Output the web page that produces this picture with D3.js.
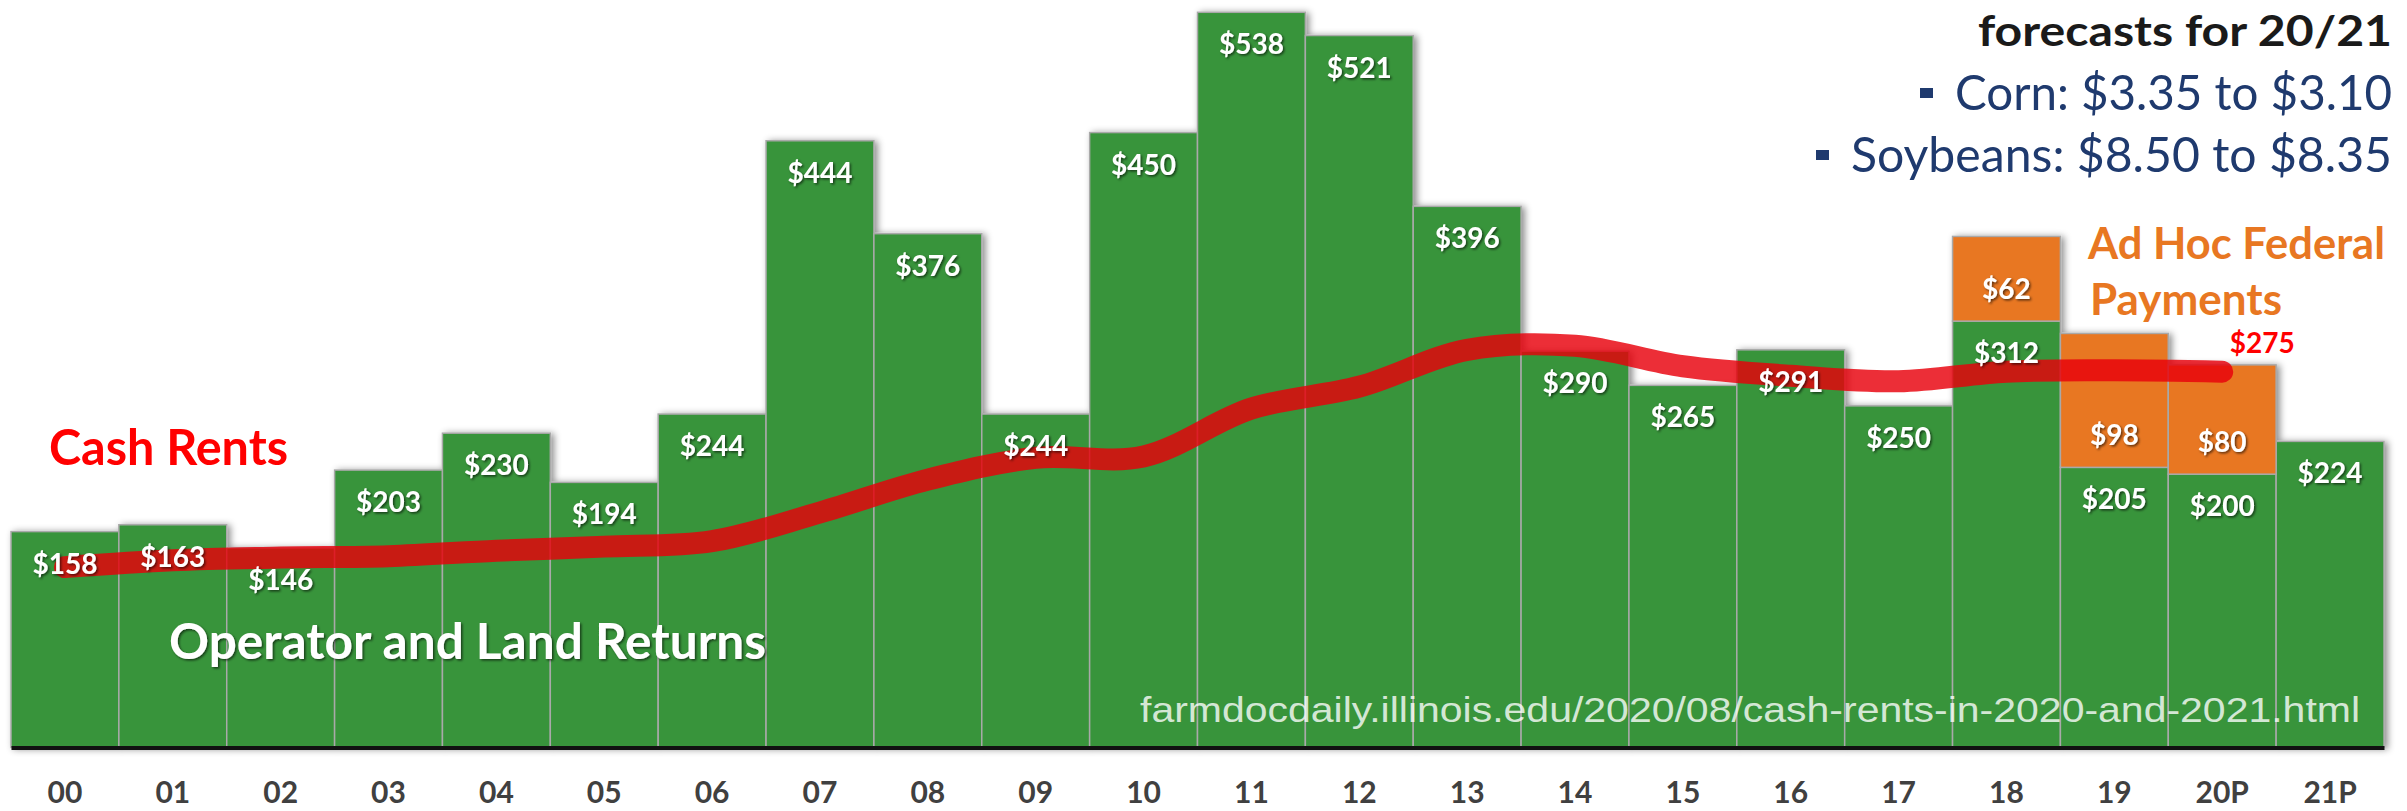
<!DOCTYPE html>
<html>
<head>
<meta charset="utf-8">
<script src="https://cdn.jsdelivr.net/npm/d3@7"></script>
<style>
  html, body { margin: 0; padding: 0; background: #ffffff; }
  svg { display: block; }
</style>
</head>
<body>
<div id="chart"></div>
<script>
// ---------------- data ----------------
const categories = ["00","01","02","03","04","05","06","07","08","09","10","11","12","13","14","15","16","17","18","19","20P","21P"];
const operatorReturns = [158,163,146,203,230,194,244,444,376,244,450,538,521,396,290,265,291,250,312,205,200,224];
const adHocPayments   = [0,0,0,0,0,0,0,0,0,0,0,0,0,0,0,0,0,0,62,98,80,0];
const cashRentYears   = ["00","01","02","03","04","05","06","07","08","09","10","11","12","13","14","15","16","17","18","19","20P"];
const cashRents       = [132,137,139,140,144,147,151,172,196,212,213,248,264,291,294,279,272,268,275,276,275];
const forecastTitle = "forecasts for 20/21";
const forecastLines = ["Corn: $3.35 to $3.10", "Soybeans: $8.50 to $8.35"];
const sourceText = "farmdocdaily.illinois.edu/2020/08/cash-rents-in-2020-and-2021.html";

// ---------------- setup ----------------
const W = 2407, H = 811;
const GREEN = "#37943a", ORANGE = "#e87722", RED = "#e8000b", NAVY = "#1f3a6e";
const FONT = "Lato, 'Open Sans', sans-serif";

const svg = d3.select("#chart").append("svg")
  .attr("width", W).attr("height", H)
  .style("background", "#fff");

const defs = svg.append("defs");
defs.append("filter").attr("id", "barShadow")
  .attr("x", "-2%").attr("y", "-5%").attr("width", "104%").attr("height", "110%")
  .append("feDropShadow")
  .attr("dx", 3).attr("dy", 1).attr("stdDeviation", 3.5)
  .attr("flood-color", "#000").attr("flood-opacity", 0.45);
defs.append("filter").attr("id", "txtShadow")
  .attr("x", "-10%").attr("y", "-20%").attr("width", "130%").attr("height", "150%")
  .append("feDropShadow")
  .attr("dx", 1.5).attr("dy", 1.5).attr("stdDeviation", 1.2)
  .attr("flood-color", "#000").attr("flood-opacity", 0.6);

const x = d3.scaleBand().domain(categories).range([11, 2384]).padding(0);
const y = d3.scaleLinear().domain([0, 547]).range([747.5, 0]);
const bw = x.bandwidth();
const cx = c => x(c) + bw / 2;

const data = categories.map((c, i) => ({ c, r: operatorReturns[i], a: adHocPayments[i] }));

// ---------------- bars ----------------
const bars = svg.append("g").attr("filter", "url(#barShadow)");
bars.selectAll("rect.ret").data(data).join("rect")
  .attr("class", "ret")
  .attr("x", d => x(d.c)).attr("width", bw)
  .attr("y", d => y(d.r)).attr("height", d => y(0) - y(d.r))
  .attr("fill", GREEN).attr("stroke", "#a9a9a9").attr("stroke-width", 1.5);
bars.selectAll("rect.adhoc").data(data.filter(d => d.a > 0)).join("rect")
  .attr("class", "adhoc")
  .attr("x", d => x(d.c)).attr("width", bw)
  .attr("y", d => y(d.r + d.a)).attr("height", d => y(d.r) - y(d.r + d.a))
  .attr("fill", ORANGE).attr("stroke", "#a9a9a9").attr("stroke-width", 1.5);

// ---------------- axis ----------------
const axis = svg.append("g").attr("transform", `translate(0,${y(0)})`)
  .call(d3.axisBottom(x).tickSize(0).tickSizeOuter(0));
axis.select(".domain").attr("stroke", "#111").attr("stroke-width", 4);
axis.selectAll(".tick text")
  .attr("y", 55.5).attr("dy", null)
  .attr("font-family", FONT).attr("font-weight", 700).attr("font-size", 30)
  .attr("fill", "#404040");

// ---------------- cash rent line ----------------
const rentData = cashRentYears.map((c, i) => ({ c, v: cashRents[i] }));
const line = d3.line().x(d => cx(d.c)).y(d => y(d.v)).curve(d3.curveCatmullRom.alpha(0.5));
svg.append("path").datum(rentData)
  .attr("d", line)
  .attr("fill", "none").attr("stroke", RED).attr("stroke-opacity", 0.82)
  .attr("stroke-width", 22).attr("stroke-linecap", "round").attr("stroke-linejoin", "round");

// ---------------- value labels ----------------
const labels = svg.append("g").attr("filter", "url(#txtShadow)")
  .attr("font-family", FONT).attr("font-weight", 700).attr("font-size", 28)
  .attr("fill", "#fff").attr("text-anchor", "middle");
labels.selectAll("text.ret").data(data).join("text")
  .attr("class", "ret")
  .attr("x", d => cx(d.c)).attr("y", d => y(d.r) + 42)
  .text(d => "$" + d.r);
labels.selectAll("text.adhoc").data(data.filter(d => d.a > 0)).join("text")
  .attr("class", "adhoc")
  .attr("x", d => cx(d.c)).attr("y", d => y(d.r) - 22)
  .text(d => "$" + d.a);

// last cash rent label
const lastRent = rentData[rentData.length - 1];
svg.append("text")
  .attr("x", cx(lastRent.c) + 40).attr("y", y(lastRent.v) - 19)
  .attr("text-anchor", "middle")
  .attr("font-family", FONT).attr("font-weight", 700).attr("font-size", 28)
  .attr("fill", "#ff0000")
  .text("$" + lastRent.v);

// ---------------- annotations ----------------
svg.append("text")
  .attr("x", 49).attr("y", 465)
  .attr("font-family", FONT).attr("font-weight", 700).attr("font-size", 49)
  .attr("fill", "#ff0000").attr("textLength", 239).attr("lengthAdjust", "spacingAndGlyphs")
  .text("Cash Rents");

svg.append("text")
  .attr("x", 169).attr("y", 659)
  .attr("filter", "url(#txtShadow)")
  .attr("font-family", FONT).attr("font-weight", 700).attr("font-size", 49)
  .attr("fill", "#fff").attr("textLength", 597).attr("lengthAdjust", "spacingAndGlyphs")
  .text("Operator and Land Returns");

svg.append("text")
  .attr("x", 1140).attr("y", 722)
  .attr("font-family", "'Liberation Sans', Arial, sans-serif").attr("font-size", 35)
  .attr("fill", "#ffffff").attr("fill-opacity", 0.8)
  .attr("textLength", 1220).attr("lengthAdjust", "spacingAndGlyphs")
  .text(sourceText);

svg.append("text")
  .attr("x", 2088).attr("y", 259)
  .attr("font-family", FONT).attr("font-weight", 700).attr("font-size", 44)
  .attr("fill", ORANGE).attr("textLength", 297).attr("lengthAdjust", "spacingAndGlyphs")
  .text("Ad Hoc Federal");
svg.append("text")
  .attr("x", 2090).attr("y", 315)
  .attr("font-family", FONT).attr("font-weight", 700).attr("font-size", 43)
  .attr("fill", ORANGE).attr("textLength", 192).attr("lengthAdjust", "spacingAndGlyphs")
  .text("Payments");

// forecasts block (top right)
svg.append("text")
  .attr("x", 2392).attr("y", 46).attr("text-anchor", "end")
  .attr("font-family", FONT).attr("font-weight", 700).attr("font-size", 42)
  .attr("fill", "#1a1a1a").attr("textLength", 414).attr("lengthAdjust", "spacingAndGlyphs")
  .text(forecastTitle);

const fcY = [110, 172], fcW = [437, 541], bulletX = [1920, 1816];
forecastLines.forEach((t, i) => {
  svg.append("rect")
    .attr("x", bulletX[i]).attr("y", fcY[i] - 22).attr("width", 13).attr("height", 10)
    .attr("fill", NAVY);
  svg.append("text")
    .attr("x", 2392).attr("y", fcY[i]).attr("text-anchor", "end")
    .attr("font-family", FONT).attr("font-weight", 400).attr("font-size", 49)
    .attr("fill", NAVY).attr("textLength", fcW[i]).attr("lengthAdjust", "spacingAndGlyphs")
    .text(t);
});
</script>
</body>
</html>
